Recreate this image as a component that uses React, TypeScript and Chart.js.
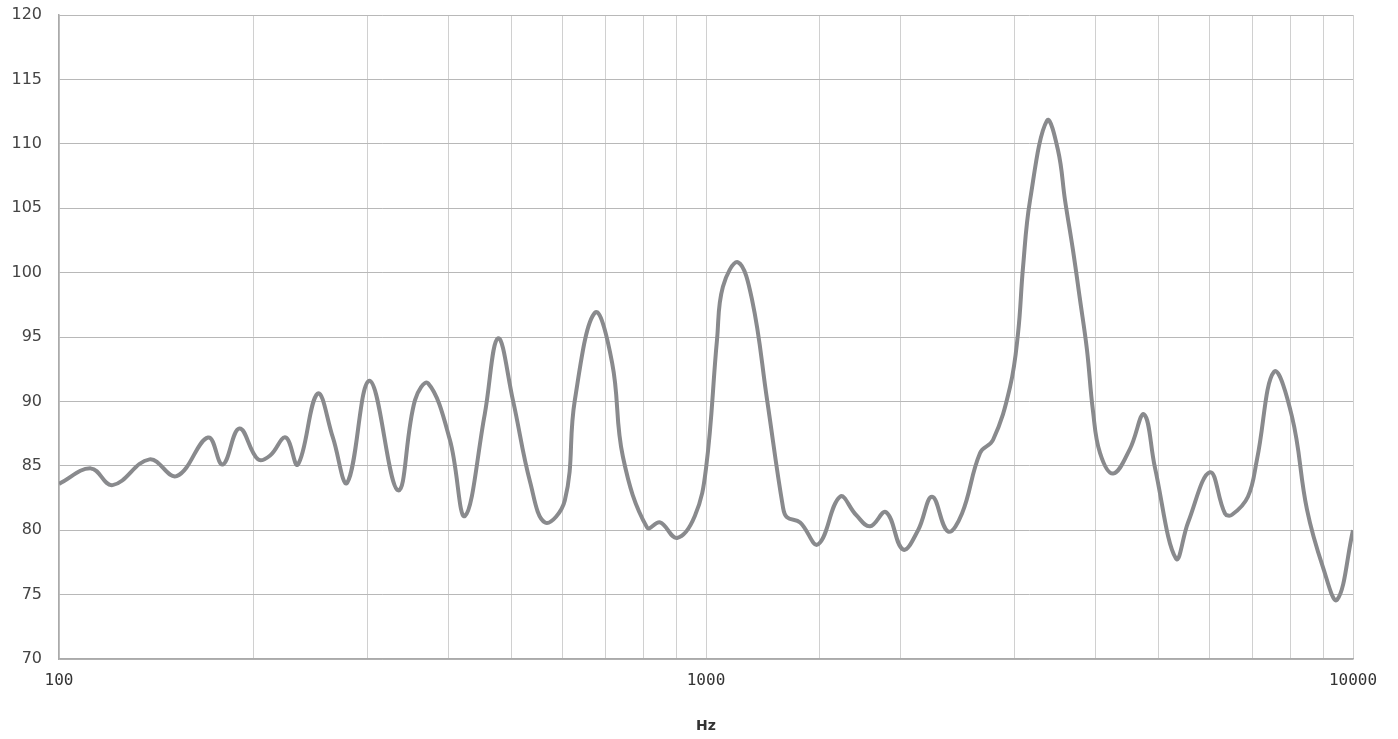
import React, { useEffect, useRef } from "react";
import { Chart, registerables } from "chart.js";

Chart.register(...registerables);

const frequencies = [
  100, 112, 121, 138, 152, 170, 179, 190, 203, 212, 224, 234, 251, 265, 279, 302, 334, 355, 372, 402,
  424, 455, 477, 503, 535, 564, 605, 627, 674, 716, 744, 811, 849, 902, 961, 1000, 1040, 1062, 1121,
  1178, 1243, 1315, 1334, 1398, 1490, 1611, 1705, 1793, 1898, 2016, 2127, 2236, 2366, 2487, 2652, 2777,
  2950, 3036, 3090, 3168, 3365, 3500, 3589, 3690, 3785, 3880, 3963, 4064, 4257, 4520, 4753, 4940, 5325,
  5560, 6010, 6340, 6500, 6880, 7106, 7550, 8050, 8490, 8990, 9450, 10000,
];

const levels = [
  83.6, 84.8, 83.5, 85.5, 84.2, 87.2, 85.1, 87.9, 85.5, 85.8, 87.2, 85.1, 90.6, 87.2, 83.7, 91.6, 83.1,
  90.1, 91.4, 87.0, 81.1, 89.0, 94.9, 90.1, 83.7, 80.6, 82.3, 90.1, 96.9, 93.0, 85.7, 80.2, 80.6, 79.4,
  81.1, 84.8, 94.8, 98.9, 100.8, 97.9, 90.1, 81.8, 81.0, 80.6, 78.9, 82.6, 81.2, 80.3, 81.4, 78.5, 80.0,
  82.6, 79.9, 81.3, 86.0, 87.0, 91.1, 95.3, 100.4, 105.6, 111.8, 109.5, 105.6, 101.8, 97.9, 94.0, 89.3,
  86.0, 84.4, 86.3, 89.0, 84.9, 77.8, 80.6, 84.5, 81.3, 81.2, 82.6, 85.5, 92.3, 88.8, 81.6, 77.1, 74.6,
  80.0,
];

const xLabels = [100, 1000, 10000];
const yMin = 70;
const yMax = 120;
const yStep = 5;
const xTitle = "Hz";

export default function App() {
  const ref = useRef<HTMLCanvasElement | null>(null);

  useEffect(() => {
    if (!ref.current) return;
    const chart = new Chart(ref.current, {
      type: "line",
      data: {
        datasets: [
          {
            data: frequencies.map((f, i) => ({ x: f, y: levels[i] })),
            borderColor: "#898a8d",
            borderWidth: 4,
            pointRadius: 0,
            tension: 0.4,
            fill: false,
          },
        ],
      },
      options: {
        animation: false,
        responsive: true,
        maintainAspectRatio: false,
        layout: { padding: { left: 0, top: 15, right: 45, bottom: 0 } },
        plugins: { legend: { display: false }, tooltip: { enabled: false } },
        scales: {
          x: {
            type: "logarithmic",
            min: 100,
            max: 10000,
            grid: { color: "#d0d0d0", lineWidth: 1, drawTicks: false },
            border: { color: "#aaaaaa", width: 1.5 },
            ticks: {
              autoSkip: false,
              maxRotation: 0,
              padding: 12,
              color: "#333333",
              font: { family: "DejaVu Sans Mono", size: 16 },
              callback: (v: any) => (xLabels.includes(Number(v)) ? String(v) : ""),
            },
            title: {
              display: true,
              text: xTitle,
              color: "#333333",
              font: { family: "DejaVu Sans", size: 14, weight: "bold" },
              padding: { top: 4, bottom: 4 },
            },
            afterFit: (s: any) => {
              s.height = 80;
              s.paddingLeft = 0;
              s.paddingRight = 0;
            },
          },
          y: {
            min: yMin,
            max: yMax,
            grid: { color: "#b8b8b8", lineWidth: 1, drawTicks: false },
            border: { color: "#aaaaaa", width: 1.5 },
            ticks: {
              stepSize: yStep,
              padding: 17,
              color: "#444444",
              font: { family: "DejaVu Sans", size: 16 },
            },
            afterFit: (s: any) => {
              s.width = 59;
              s.paddingTop = 0;
              s.paddingBottom = 0;
            },
          },
        },
      },
    });
    return () => chart.destroy();
  }, []);

  return (
    <div style={{ position: "fixed", left: 0, top: 0, width: 1398, height: 739, background: "#fff" }}>
      <canvas ref={ref} />
    </div>
  );
}
